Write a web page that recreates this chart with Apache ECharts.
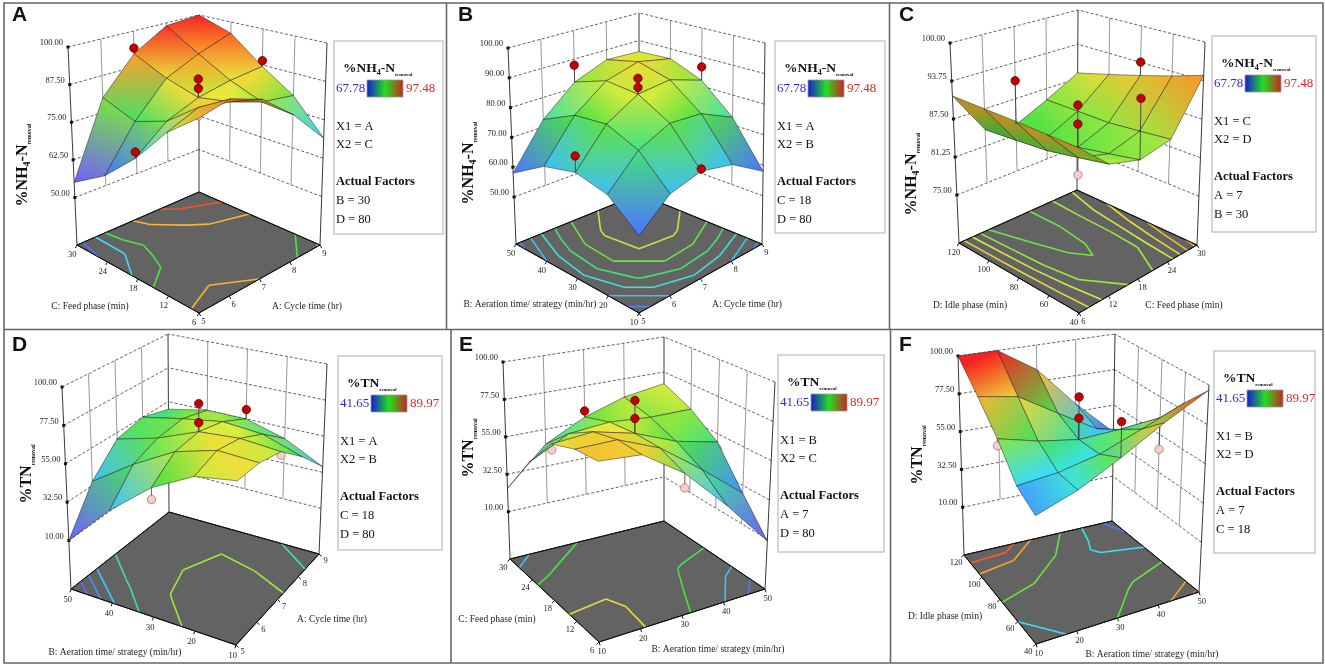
<!DOCTYPE html>
<html>
<head>
<meta charset="utf-8">
<script src="https://cdn.jsdelivr.net/npm/echarts@6.0.0/dist/echarts.min.js"></script>
<style>
html,body{margin:0;padding:0;background:#fff;}
#chart{width:1325px;height:667px;}
</style>
</head>
<body>
<div id="chart"></div>
<script>
// ================= DATA =================
const panelLetters = ['A','B','C','D','E','F'];
const responseOfPanel = ['NH4','NH4','NH4','TN','TN','TN'];
const rangeNH4 = [67.78, 97.48];
const rangeTN = [41.65, 89.97];
const factorNames = {A:'A: Cycle time (hr)', B:'B: Aeration time/ strategy (min/hr)', C:'C: Feed phase (min)', D:'D: Idle phase (min)'};
const x1Factor = ['A','A','C','A','B','B'];
const x2Factor = ['C','B','D','B','C','D'];
const actualFactors = [['B = 30','D = 80'],['C = 18','D = 80'],['A = 7','B = 30'],['C = 18','D = 80'],['A = 7','D = 80'],['A = 7','C = 18']];

const ticksA_hr = [5,6,7,8,9];
const ticksB_min = [10,20,30,40,50];
const ticksC_min = [6,12,18,24,30];
const ticksD_min = [40,60,80,100,120];

const zTicksA = [50,62.5,75,87.5,100];
const zTicksB = [50,60,70,80,90,100];
const zTicksC = [75,81.25,87.5,93.75,100];
const zTicksTN = [10,32.5,55,77.5,100];

// surfaces: rows = X1 tick index, columns = X2 tick index
const surfaceA = [
  [92, 84, 72, 62, 55],
  [94, 88, 80, 76, 80],
  [90, 86, 84, 87, 92],
  [81, 82, 86, 92, 99],
  [69, 80, 87, 96, 100]
];
const surfaceB = [
  [57, 65, 67.5, 65, 58],
  [65, 74.5, 79, 78, 72.5],
  [67.5, 79, 85, 86, 82],
  [65, 78, 86, 89, 86.5],
  [58, 72.5, 82, 86.5, 86]
];
const surfaceC = [
  [91.5, 91.5, 91.5, 91.4, 91.3],
  [87, 86, 85, 84.5, 84],
  [85.5, 84.5, 83.5, 83, 83],
  [86.5, 86, 85.5, 85.5, 85.5],
  [94.6, 93, 91.5, 90, 88.5]
];
const surfaceD = [
  [72, 68, 55, 35, 10],
  [72, 73, 66, 52, 35],
  [68, 70, 68, 58, 51],
  [54, 62, 64, 60, 55],
  [36, 48, 55, 55, 50]
];
const surfaceE = [
  [78, 76, 70, 50, 24],
  [76, 76, 72, 62, 46],
  [60, 66, 66, 64, 58],
  [36, 48, 56, 62, 66],
  [9, 28, 50, 62, 70]
];
const surfaceF = [
  [50, 56, 72, 86, 100],
  [58, 58, 66, 82, 100],
  [70, 63, 62, 68, 85],
  [84, 72, 63, 54, 60],
  [97, 82, 65, 48, 38]
];

// design points: [X1 value, X2 value, response, above surface (1) / below (0)]
const pointsA = [[7,18,90.1,1],[7,18,87,1],[7,18,78,0],[7,30,94,1],[9,18,89,1],[5,18,74,1]];
const pointsB = [[7,30,90.2,1],[7,30,87.2,1],[7,50,87.9,1],[9,30,86.6,1],[5,30,72.7,1],[7,10,68.2,1]];
const pointsC = [[18,80,90.4,1],[18,80,87.3,1],[18,80,79,0],[18,120,90.6,1],[18,120,81,0],[30,80,93.8,1],[18,40,95,1]];
const pointsD = [[7,30,85,1],[7,30,73.5,1],[9,30,61,1],[7,50,46,0],[5,30,48.3,0],[7,10,66,0]];
const pointsE = [[30,18,85.3,1],[30,18,74.7,1],[30,30,61.8,1],[10,18,66.7,0],[30,6,52,0],[50,18,46,0]];
const pointsF = [[30,80,86.8,1],[30,80,74.5,1],[30,40,90,1],[10,80,68,0],[50,80,46,0]];

// floor contour levels
const contourA = [60,70,78,90,97];
const contourB = [60,65,70,75,80,85];
const contourC = [84,86,88,90,92,94];
const contourD = [20,28,36,48,64];
const contourE = [20,35,55,74];
const contourF = [44,56,70,88,95];

// ================= LAYOUT / STYLE =================
const LAYOUT = [
 {floor:{F:[199,313],R:[320,245],L:[77,245],B:[199,192]}, top:{F:[199,91],R:[327,43],L:[68,47],B:[199,15]}, letter:[12,5], zTitle:[23,165], x1Title:[307,306], x2Title:[90,306], box:[334,41,109,193], cr:[55,100]},
 {floor:{F:[639,313],R:[762,244],L:[516,244],B:[639,194]}, top:{F:[639,90],R:[765,43],L:[508,48],B:[639,13]}, letter:[458,5], zTitle:[469,163], x1Title:[747,304], x2Title:[530,304], box:[775,41,110,192], cr:[50,105]},
 {floor:{F:[1079,313],R:[1197,245],L:[959,243],B:[1077,190]}, top:{F:[1078,90],R:[1205,42],L:[950,43],B:[1078,10]}, letter:[899,5], zTitle:[912,174], x1Title:[1184,305], x2Title:[970,305], box:[1212,36,104,196], cr:[65,100]},
 {floor:{F:[236,645],R:[319,554],L:[71,589],B:[169,512]}, top:{F:[238,430],R:[327,364],L:[62,387],B:[168,334]}, letter:[12,335], zTitle:[27,474], x1Title:[332,619], x2Title:[115,652], box:[338,356,104,194], cr:[10,100]},
 {floor:{F:[599,642],R:[765,589],L:[510,559],B:[664,521]}, top:{F:[598,420],R:[775,382],L:[503,362],B:[664,337]}, letter:[459,335], zTitle:[469,448], x1Title:[718,649], x2Title:[497,619], box:[778,355,106,197], cr:[10,100]},
 {floor:{F:[1036,644],R:[1199,592],L:[964,555],B:[1112,521]}, top:{F:[1035,422],R:[1209,385],L:[958,356],B:[1115,334]}, letter:[899,335], zTitle:[918,455], x1Title:[1152,654], x2Title:[945,616], box:[1214,351,101,202], cr:[35,100]}
];
const SERIF = '"Liberation Serif","Times New Roman",serif';
const R0 = 0.24;

const ticksOf = {A: ticksA_hr, B: ticksB_min, C: ticksC_min, D: ticksD_min};
const surfaces = [surfaceA, surfaceB, surfaceC, surfaceD, surfaceE, surfaceF];
const pointSets = [pointsA, pointsB, pointsC, pointsD, pointsE, pointsF];
const zTickSets = [zTicksA, zTicksB, zTicksC, zTicksTN, zTicksTN, zTicksTN];
const contourSets = [contourA, contourB, contourC, contourD, contourE, contourF];

const PANELS = panelLetters.map((L, k) => {
  const f1 = x1Factor[k], f2 = x2Factor[k];
  return {
    letter: L, resp: responseOfPanel[k], surface: surfaces[k], points: pointSets[k],
    zTicks: zTickSets[k], x1Ticks: ticksOf[f1], x2Ticks: ticksOf[f2],
    x1Title: factorNames[f1], x2Title: factorNames[f2], x1Name: f1, x2Name: f2,
    levels: contourSets[k], geo: LAYOUT[k], cr: LAYOUT[k].cr, actual: actualFactors[k]
  };
});

// ================= helpers =================
const CMAP = [[0,[112,96,250]],[0.16,[70,120,255]],[0.33,[60,225,245]],[0.5,[70,225,70]],[0.68,[232,236,60]],[0.84,[255,150,40]],[1,[245,35,35]]];
function cmap(t, k) {
  t = Math.max(0, Math.min(1, t)); k = k || 1;
  for (let s = 1; s < CMAP.length; s++) {
    if (t <= CMAP[s][0] + 1e-9) {
      const a = CMAP[s-1], b = CMAP[s]; const f = (t - a[0]) / (b[0] - a[0]);
      const c = a[1].map((x, q) => Math.round((x + (b[1][q] - x) * f) * k));
      return 'rgb(' + c.join(',') + ')';
    }
  }
  return 'rgb(245,35,35)';
}
function zc(P, z) { return (z - P.cr[0]) / (P.cr[1] - P.cr[0]); }
function zMin(P) { return P.zTicks[0]; }
function zMax(P) { return P.zTicks[P.zTicks.length - 1]; }
function wOf(P, z) { const zz = Math.min(z, zMax(P)); return R0 + (1 - R0) * (zz - zMin(P)) / (zMax(P) - zMin(P)); }
function bil(c, u, v) {
  const a = (1-u)*(1-v), b = u*(1-v), d = (1-u)*v, e = u*v;
  return [c.F[0]*a + c.R[0]*b + c.L[0]*d + c.B[0]*e, c.F[1]*a + c.R[1]*b + c.L[1]*d + c.B[1]*e];
}
function proj(G, u, v, w) { const f = bil(G.floor, u, v), t = bil(G.top, u, v); return [f[0] + (t[0]-f[0])*w, f[1] + (t[1]-f[1])*w]; }
function uOf(ticks, val) { return (val - ticks[0]) / (ticks[ticks.length-1] - ticks[0]); }
function contourSegs(S, level) {
  const segs = []; const n = S.length;
  for (let i = 0; i < n-1; i++) for (let j = 0; j < n-1; j++) {
    const z00 = S[i][j], z10 = S[i+1][j], z11 = S[i+1][j+1], z01 = S[i][j+1];
    const pts = [];
    const edge = (ia, ja, za, ib, jb, zb) => { if ((za < level) !== (zb < level)) { const f = (level - za) / (zb - za); pts.push([ia + (ib-ia)*f, ja + (jb-ja)*f]); } };
    edge(i,j,z00, i+1,j,z10); edge(i+1,j,z10, i+1,j+1,z11); edge(i+1,j+1,z11, i,j+1,z01); edge(i,j+1,z01, i,j,z00);
    if (pts.length === 2) segs.push(pts);
    else if (pts.length === 4) {
      const c = (z00+z10+z11+z01)/4;
      if ((c < level) === (z00 < level)) { segs.push([pts[0],pts[1]]); segs.push([pts[2],pts[3]]); }
      else { segs.push([pts[0],pts[3]]); segs.push([pts[1],pts[2]]); }
    }
  }
  return segs;
}
function lineEl(a, b, stroke, lw, dash) {
  return {type:'line', shape:{x1:a[0], y1:a[1], x2:b[0], y2:b[1]}, style:{stroke:stroke, lineWidth:lw, lineDash:dash || null}};
}
function textEl(p, txt, size, align, vAlign, color, weight) {
  return {type:'text', x:p[0], y:p[1], style:{text:txt, fill:color||'#222', font:(weight||'normal') + ' ' + size + 'px ' + SERIF, align:align, verticalAlign:vAlign, textAlign:align, textVerticalAlign:vAlign}};
}

// ================= render functions =================
function renderFrame(params, api) {
  const k = api.value(0); const P = PANELS[k]; const G = P.geo; const S = P.surface; const n = S.length - 1;
  const C = p => api.coord(p);
  const pr = (u, v, w) => C(proj(G, u, v, w));
  const ch = [];
  ch.push({type:'polygon', shape:{points:[G.floor.F, G.floor.R, G.floor.B, G.floor.L].map(C)}, style:{fill:'#636363', stroke:'#111', lineWidth:1}});
  P.levels.forEach(lv => {
    const col = cmap(zc(P, lv));
    contourSegs(S, lv).forEach(sg => {
      ch.push(lineEl(pr(sg[0][0]/n, sg[0][1]/n, 0), pr(sg[1][0]/n, sg[1][1]/n, 0), col, 1.6));
    });
  });
  ch.push({type:'polygon', shape:{points:[G.floor.F, G.floor.R, G.floor.B, G.floor.L].map(C)}, style:{fill:'none', stroke:'#111', lineWidth:1}});
  const cen = bil(G.floor, 0.5, 0.5);
  function edgeNormal(a, b) {
    let nx = b[1]-a[1], ny = -(b[0]-a[0]); const len = Math.hypot(nx, ny); nx /= len; ny /= len;
    const mid = [(a[0]+b[0])/2, (a[1]+b[1])/2];
    if ((mid[0]-cen[0])*nx + (mid[1]-cen[1])*ny < 0) { nx = -nx; ny = -ny; }
    return [nx, ny];
  }
  const nR = edgeNormal(G.floor.F, G.floor.R), nL = edgeNormal(G.floor.F, G.floor.L);
  P.x1Ticks.forEach(t => {
    const p = proj(G, uOf(P.x1Ticks, t), 0, 0);
    ch.push(lineEl(C(p), C([p[0]+nR[0]*3.5, p[1]+nR[1]*3.5]), '#111', 1));
    ch.push(textEl(C([p[0]+nR[0]*9, p[1]+nR[1]*9+1]), String(t), 8.5, 'center', 'middle', '#222'));
  });
  P.x2Ticks.forEach(t => {
    const p = proj(G, 0, uOf(P.x2Ticks, t), 0);
    ch.push(lineEl(C(p), C([p[0]+nL[0]*3.5, p[1]+nL[1]*3.5]), '#111', 1));
    ch.push(textEl(C([p[0]+nL[0]*10, p[1]+nL[1]*10+1]), String(t), 8.5, 'center', 'middle', '#222'));
  });
  P.zTicks.forEach(z => {
    const w = wOf(P, z);
    ch.push(lineEl(pr(0,1,w), pr(1,1,w), '#3a3a3a', 0.8, [3,2]));
    ch.push(lineEl(pr(1,0,w), pr(1,1,w), '#3a3a3a', 0.8, [3,2]));
  });
  P.x1Ticks.slice(1, -1).forEach(t => { const u = uOf(P.x1Ticks, t); ch.push(lineEl(pr(u,1,R0), pr(u,1,1), '#6a6a6a', 0.7)); });
  P.x2Ticks.slice(1, -1).forEach(t => { const v = uOf(P.x2Ticks, t); ch.push(lineEl(pr(1,v,R0), pr(1,v,1), '#6a6a6a', 0.7)); });
  ch.push(lineEl(pr(0,1,0), pr(0,1,1), '#222', 0.9));
  ch.push(lineEl(pr(1,1,0), pr(1,1,1), '#222', 0.9));
  ch.push(lineEl(pr(1,0,0), pr(1,0,1), '#222', 0.9));
  P.zTicks.forEach(z => {
    const p = pr(0, 1, wOf(P, z));
    ch.push({type:'rect', shape:{x:p[0]-1.5, y:p[1]-1.5, width:3, height:3}, style:{fill:'#111'}});
    ch.push(textEl([p[0]-5, p[1]-4], z.toFixed(2), 8.5, 'right', 'middle', '#222'));
  });
  ch.push(textEl(C(G.x1Title), P.x1Title, 9.5, 'center', 'middle', '#222'));
  ch.push(textEl(C(G.x2Title), P.x2Title, 9.5, 'center', 'middle', '#222'));
  return {type:'group', children:ch};
}

function renderQuad(params, api) {
  const k = api.value(0), i = api.value(1), j = api.value(2);
  const P = PANELS[k], G = P.geo, S = P.surface, n = S.length - 1;
  const cs = [[i,j],[i+1,j],[i+1,j+1],[i,j+1]];
  const zs = cs.map(c => Math.min(S[c[0]][c[1]], zMax(P)));
  const pts = cs.map((c, q) => api.coord(proj(G, c[0]/n, c[1]/n, wOf(P, zs[q]))));
  let A = 0; for (let q = 0; q < 4; q++) { const a = pts[q], b = pts[(q+1)%4]; A += a[0]*b[1] - b[0]*a[1]; }
  const shade = A > 0 ? 0.74 : 1;
  let lo = 0, hi = 0; zs.forEach((z, q) => { if (z < zs[lo]) lo = q; if (z > zs[hi]) hi = q; });
  let fill;
  if (zs[hi] - zs[lo] < 0.3) fill = cmap(zc(P, zs[lo]), shade);
  else fill = new echarts.graphic.LinearGradient(pts[lo][0], pts[lo][1], pts[hi][0], pts[hi][1], [
      {offset:0, color:cmap(zc(P, zs[lo]), shade)}, {offset:1, color:cmap(zc(P, zs[hi]), shade)}], true);
  return {type:'polygon', shape:{points:pts}, style:{fill:fill, stroke:'rgba(25,25,25,0.8)', lineWidth:0.6}};
}

function renderPoint(params, api) {
  const k = api.value(0), x1 = api.value(1), x2 = api.value(2), z = api.value(3), up = api.value(4);
  const P = PANELS[k], G = P.geo, S = P.surface, n = S.length - 1;
  const u = uOf(P.x1Ticks, x1), v = uOf(P.x2Ticks, x2);
  const ps = api.coord(proj(G, u, v, wOf(P, z)));
  const sz = S[Math.round(u*n)][Math.round(v*n)];
  const pb = api.coord(proj(G, u, v, wOf(P, sz)));
  return {type:'group', children:[
    lineEl(ps, pb, '#333', 0.8),
    {type:'circle', shape:{cx:ps[0], cy:ps[1], r:4.2}, style:{fill: up ? '#c30000' : '#f7cccc', stroke: up ? '#5a0000' : '#a57a7a', lineWidth:0.8}}
  ]};
}

// ================= series data =================
const frameData = PANELS.map((P, k) => [k]);
const quadData = [];
PANELS.forEach((P, k) => {
  const n = P.surface.length - 1; const list = [];
  for (let i = 0; i < n; i++) for (let j = 0; j < n; j++) list.push([k, i, j, bil(P.geo.floor, (i+0.5)/n, (j+0.5)/n)[1]]);
  list.sort((a, b) => a[3] - b[3]);
  list.forEach(q => quadData.push(q));
});
const pinkData = [], redData = [];
PANELS.forEach((P, k) => P.points.forEach(p => (p[3] ? redData : pinkData).push([k, p[0], p[1], p[2], p[3]])));

// ================= graphic (frames, legends, titles) =================
const graphics = [];
graphics.push({type:'rect', shape:{x:4, y:3, width:1319, height:660}, style:{fill:'none', stroke:'#666', lineWidth:1.6}});
graphics.push({type:'line', shape:{x1:4, y1:329.5, x2:1323, y2:329.5}, style:{stroke:'#666', lineWidth:1.6}});
graphics.push({type:'line', shape:{x1:446.5, y1:3, x2:446.5, y2:329.5}, style:{stroke:'#666', lineWidth:1.6}});
graphics.push({type:'line', shape:{x1:889.5, y1:3, x2:889.5, y2:329.5}, style:{stroke:'#666', lineWidth:1.6}});
graphics.push({type:'line', shape:{x1:451, y1:329.5, x2:451, y2:663}, style:{stroke:'#666', lineWidth:1.6}});
graphics.push({type:'line', shape:{x1:890.5, y1:329.5, x2:890.5, y2:663}, style:{stroke:'#666', lineWidth:1.6}});

const richTitle = (big) => ({
  b: {fontFamily:SERIF, fontWeight:'bold', fontSize:big, fill:'#111', lineHeight:big+2},
  s: {fontFamily:SERIF, fontWeight:'bold', fontSize:Math.round(big*0.6), fill:'#111', lineHeight:Math.round(big*0.75), verticalAlign:'bottom'},
  r: {fontFamily:SERIF, fontWeight:'bold', fontSize:Math.max(5, Math.round(big*0.36)), fill:'#111', lineHeight:Math.round(big*0.6), verticalAlign:'bottom'}
});
function respRich(resp) { return resp === 'NH4' ? '{b|%NH}{s|4}{b|-N}{r|removal}' : '{b|%TN}{r|removal}'; }

PANELS.forEach((P, k) => {
  const G = P.geo; const bx = G.box;
  const rng = P.resp === 'NH4' ? rangeNH4 : rangeTN;
  graphics.push({type:'text', x:G.letter[0], y:G.letter[1], style:{text:P.letter, font:'bold 21px "Liberation Sans",Arial,sans-serif', fill:'#111', align:'left', verticalAlign:'top', textAlign:'left', textVerticalAlign:'top'}});
  graphics.push({type:'text', x:G.zTitle[0], y:G.zTitle[1], rotation:Math.PI/2, style:{text:respRich(P.resp), rich:richTitle(16), align:'center', verticalAlign:'middle', textAlign:'center', textVerticalAlign:'middle'}});
  graphics.push({type:'rect', shape:{x:bx[0], y:bx[1], width:bx[2], height:bx[3]}, style:{fill:'#fff', stroke:'#c9c9c9', lineWidth:1.5}});
  graphics.push({type:'text', x:bx[0]+9, y:bx[1]+28, style:{text:respRich(P.resp), rich:richTitle(13.5), align:'left', verticalAlign:'middle', textAlign:'left', textVerticalAlign:'middle'}});
  graphics.push({type:'text', x:bx[0]+2, y:bx[1]+48, style:{text:rng[0].toFixed(2), font:'13px ' + SERIF, fill:'#2a2ae0', align:'left', verticalAlign:'middle', textAlign:'left', textVerticalAlign:'middle'}});
  graphics.push({type:'rect', shape:{x:bx[0]+33, y:bx[1]+39, width:36, height:17}, style:{stroke:'#999', lineWidth:0.8,
    fill:new echarts.graphic.LinearGradient(0,0,1,0,[{offset:0,color:'#1616d8'},{offset:0.5,color:'#22e022'},{offset:1,color:'#cc2020'}])}});
  graphics.push({type:'text', x:bx[0]+72, y:bx[1]+48, style:{text:rng[1].toFixed(2), font:'13px ' + SERIF, fill:'#e02626', align:'left', verticalAlign:'middle', textAlign:'left', textVerticalAlign:'middle'}});
  const lines = [['X1 = ' + P.x1Name, 86, 'normal'], ['X2 = ' + P.x2Name, 104, 'normal'], ['Actual Factors', 141, 'bold'], [P.actual[0], 160, 'normal'], [P.actual[1], 179, 'normal']];
  lines.forEach(l => graphics.push({type:'text', x:bx[0]+2, y:bx[1]+l[1], style:{text:l[0], font:l[2] + ' 12.5px ' + SERIF, fill:'#111', align:'left', verticalAlign:'middle', textAlign:'left', textVerticalAlign:'middle'}}));
});

// ================= chart =================
const chart = echarts.init(document.getElementById('chart'));
chart.setOption({
  animation: false,
  backgroundColor: '#fff',
  grid: {left:0, right:0, top:0, bottom:0},
  xAxis: {type:'value', min:0, max:1325, show:false},
  yAxis: {type:'value', min:0, max:667, inverse:true, show:false},
  graphic: graphics,
  series: [
    {type:'custom', name:'frames', renderItem:renderFrame, data:frameData, silent:true, z:1},
    {type:'custom', name:'points below', renderItem:renderPoint, data:pinkData, silent:true, z:2},
    {type:'custom', name:'surface', renderItem:renderQuad, data:quadData, silent:true, z:3},
    {type:'custom', name:'points above', renderItem:renderPoint, data:redData, silent:true, z:4}
  ]
});
</script>
</body>
</html>
